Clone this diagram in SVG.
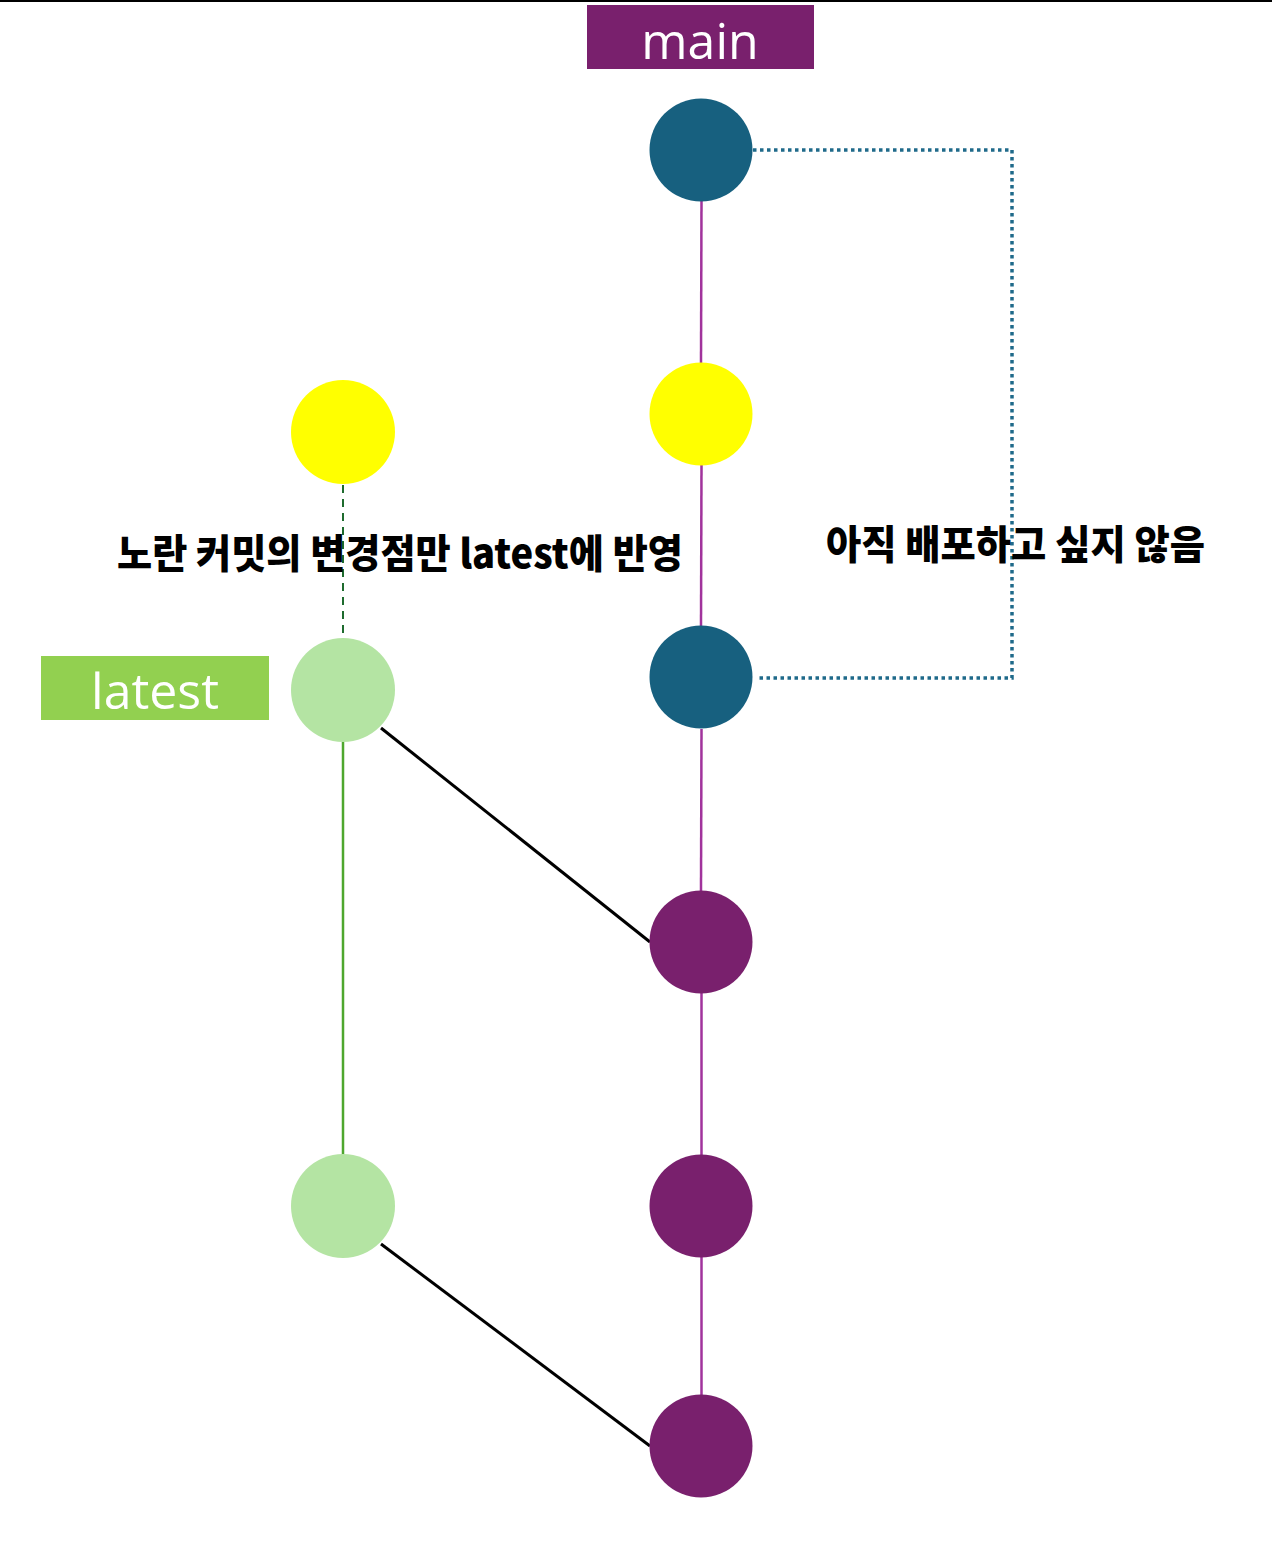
<svg xmlns="http://www.w3.org/2000/svg" width="1272" height="1542" viewBox="0 0 1272 1542">
<style>
.lbl{font-family:"Open Sans","Noto Sans",sans-serif;fill:#fff;font-size:50px;text-anchor:middle}
.note{font-family:"Noto Sans CJK KR","Noto Sans",sans-serif;font-weight:900;fill:#000;font-size:40px}
.main{stroke:#A1339C;stroke-width:2.5;fill:none}
.merge{stroke:#000;stroke-width:3;fill:none}
</style>
<rect x="0" y="0" width="1272" height="1542" fill="#fff"/>
<line x1="0" y1="1" x2="1272" y2="1" stroke="#000" stroke-width="2"/>
<g id="connectors">
<line class="main" x1="701.5" y1="201" x2="701" y2="364"/>
<line class="main" x1="701.5" y1="465" x2="701" y2="627"/>
<line class="main" x1="701.5" y1="729" x2="701" y2="891"/>
<line class="main" x1="701.5" y1="993" x2="701.5" y2="1155"/>
<line class="main" x1="701.5" y1="1257" x2="701.5" y2="1396"/>
<line x1="343" y1="742" x2="343" y2="1155" stroke="#4EA72E" stroke-width="2.5"/>
<line x1="343" y1="485" x2="343" y2="638" stroke="#1E6B2E" stroke-width="2" stroke-dasharray="8 6"/>
<line class="merge" x1="381" y1="728" x2="650" y2="942"/>
<line class="merge" x1="381" y1="1244" x2="650" y2="1446"/>
<polyline points="753,150 1012,150 1012,678 758,678" fill="none" stroke="#1F6A8A" stroke-width="3.5" stroke-dasharray="3.5 3.5"/>
</g>
<g id="label-main"><rect x="587" y="5" width="227" height="64" fill="#79206D"/><text class="lbl" x="700" y="59">main</text></g>
<g id="label-latest"><rect x="41" y="656" width="228" height="64" fill="#92D050"/><text class="lbl" x="155" y="709">latest</text></g>
<g id="m1"><circle cx="701" cy="150" r="51.5" fill="#17607F"/></g>
<g id="m2"><circle cx="701" cy="414" r="51.5" fill="#FFFF00"/></g>
<g id="m3"><circle cx="701" cy="677" r="51.5" fill="#17607F"/></g>
<g id="m4"><circle cx="701" cy="942" r="51.5" fill="#79206D"/></g>
<g id="m5"><circle cx="701" cy="1206" r="51.5" fill="#79206D"/></g>
<g id="m6"><circle cx="701" cy="1446" r="51.5" fill="#79206D"/></g>
<g id="l1"><circle cx="343" cy="432" r="52" fill="#FFFF00"/></g>
<g id="l2"><circle cx="343" cy="690" r="52" fill="#B4E4A3"/></g>
<g id="l3"><circle cx="343" cy="1206" r="52" fill="#B4E4A3"/></g>
<g id="note1"><text class="note" x="117" y="568" textLength="566" lengthAdjust="spacingAndGlyphs">노란 커밋의 변경점만 latest에 반영</text></g>
<g id="note2"><text class="note" x="826" y="559" textLength="379" lengthAdjust="spacingAndGlyphs">아직 배포하고 싶지 않음</text></g>
</svg>
